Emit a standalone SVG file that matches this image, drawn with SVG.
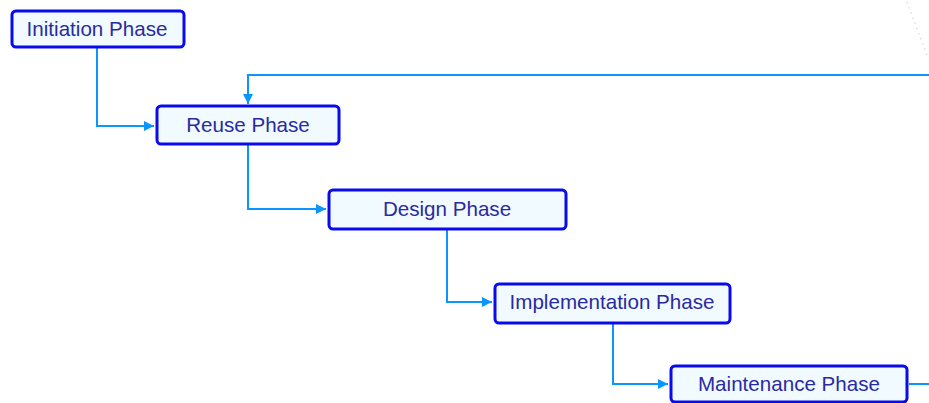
<svg xmlns="http://www.w3.org/2000/svg" width="929" height="403" viewBox="0 0 929 403">
  <style>
    .box { fill: #f0faff; stroke: #0a0aee; stroke-width: 3; }
    .label { font-family: "Liberation Sans", Arial, sans-serif; font-size: 20.6px; fill: #2a2aa0; text-anchor: middle; }
    .link { fill: none; stroke: #0a96ff; stroke-width: 2; }
    .guide { fill: none; stroke: #dcdce6; stroke-width: 1.5; stroke-dasharray: 1.5 4; }
  </style>
  <defs>
    <marker id="arrow" viewBox="0 0 10 10" refX="10" refY="5" markerWidth="5" markerHeight="5" orient="auto" markerUnits="strokeWidth">
      <path d="M0,0 L10,5 L0,10 Z" fill="#0a96ff"/>
    </marker>
  </defs>

  <rect width="929" height="403" fill="#ffffff"/>

  <!-- faint dotted edge at the top right -->
  <line class="guide" x1="907" y1="2" x2="928" y2="58"/>

  <g id="connectors">
    <!-- Initiation -> Reuse -->
    <path class="link" d="M97,48 V126 H154" marker-end="url(#arrow)"/>
    <!-- feedback loop into Reuse from the right -->
    <path class="link" d="M929,75 H248 V104" marker-end="url(#arrow)"/>
    <!-- Reuse -> Design -->
    <path class="link" d="M248,145 V209 H326" marker-end="url(#arrow)"/>
    <!-- Design -> Implementation -->
    <path class="link" d="M447,230 V302 H492" marker-end="url(#arrow)"/>
    <!-- Implementation -> Maintenance -->
    <path class="link" d="M613,324 V384 H668" marker-end="url(#arrow)"/>
    <!-- Maintenance outgoing -->
    <path class="link" d="M909,384 H929"/>
  </g>

  <g id="initiation">
    <rect class="box" x="12" y="11" width="172" height="36" rx="4"/>
    <text class="label" x="97" y="36">Initiation Phase</text>
  </g>

  <g id="reuse">
    <rect class="box" x="157" y="106" width="182" height="38" rx="4"/>
    <text class="label" x="248" y="132">Reuse Phase</text>
  </g>

  <g id="design">
    <rect class="box" x="329" y="190" width="237" height="39" rx="4"/>
    <text class="label" x="447" y="216">Design Phase</text>
  </g>

  <g id="implementation">
    <rect class="box" x="495" y="284" width="235" height="39" rx="4"/>
    <text class="label" x="612" y="309">Implementation Phase</text>
  </g>

  <g id="maintenance">
    <rect class="box" x="671" y="366" width="236" height="36" rx="4"/>
    <text class="label" x="789" y="391">Maintenance Phase</text>
  </g>
</svg>
